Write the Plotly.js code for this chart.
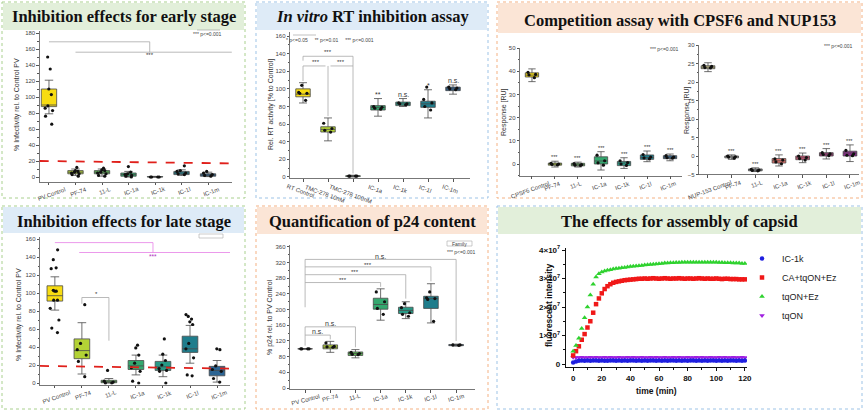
<!DOCTYPE html>
<html><head><meta charset="utf-8">
<script src="https://cdn.plot.ly/plotly-3.0.1.min.js"></script>
<style>html,body{margin:0;padding:0;background:#fff}#chart{width:865px;height:411px}</style>
</head><body><div id="chart"></div>
<script>
// ---------------- DATA ----------------
// Panel A: Inhibition effects for early stage
const earlyCats = ['PV Control','PF-74','11-L','IC-1a','IC-1k','IC-1l','IC-1m'];
const earlyQ1  = [88, 4, 4, 1, 0, 3, 1];
const earlyMed = [90, 6, 6, 3, 0.2, 5, 2.5];
const earlyQ3  = [110, 8, 8, 5, 0.5, 7, 4];
const earlyLo  = [79, 2, 1, 0, 0, 2, 0.5];
const earlyHi  = [121, 10, 10, 7, 0.8, 9, 6];
const earlyPts = [[150,135,110,103,89,86,83,76,66],[12,8,7,6,5,4,3,1],[11,9,8,6,5,4,2,1],[13,6,4,3,2,1,0],[0,0,0,0],[14,8,7,5,4,3],[7,5,3,2,1]];

// Panel B: In vitro RT inhibition assay
const rtCats = ['RT Control','TMC-278 10nM','TMC-278 100nM','IC-1a','IC-1k','IC-1l','IC-1m'];
const rtQ1  = [91, 51, 0.5, 76, 81, 79, 98];
const rtMed = [94, 54, 1, 79, 83, 83, 100];
const rtQ3  = [100, 57, 1.5, 81, 85, 86, 102];
const rtLo  = [84, 41, 0, 69, 80, 67, 94];
const rtHi  = [107, 67, 2, 89, 89, 99, 104.5];
const rtPts = [[104,96,95,95,87],[61,55,53,51],[1,1,1,1],[80,79,78,77],[84,83,83,82],[102,88,84,80,76],[102,101,100,99]];
const rtSig = ['', '', '', '**', 'n.s.', '*', 'n.s.'];

// Panel C-left: competition with CPSF6
const cpCats = ['CPSF6 Control','PF-74','11-L','IC-1a','IC-1k','IC-1l','IC-1m'];
const cpQ1  = [37.5, -0.5, -0.8, 0, -0.7, 2, 2.3];
const cpMed = [38.3, 0, -0.3, 1.3, 0.4, 2.8, 2.9];
const cpQ3  = [39.3, 0.4, 0.3, 3.1, 1.1, 3.9, 3.6];
const cpLo  = [35.5, -1.3, -1.3, -2.6, -1.9, 1, 1.4];
const cpHi  = [41, 1.2, 0.8, 5.3, 2.7, 5.6, 4.3];
const cpPts = [[39.5,38.6,38.4,37.2],[0.3,0,-0.2,-0.4],[0.2,-0.3,-0.5,-0.6],[3.8,1.4,0.5,-0.5],[1.4,0.6,0,-0.6],[4.1,3,2.6,2.2],[3.6,3,2.7,2.5]];

// Panel C-right: competition with NUP153
const nuCats = ['NUP-153 Control','PF-74','11-L','IC-1a','IC-1k','IC-1l','IC-1m'];
const nuQ1  = [23.6, -0.5, -4, -1.9, -1, 0, 0];
const nuMed = [24, -0.2, -3.8, -1.3, -0.5, 0.5, 0.8];
const nuQ3  = [24.4, 0, -3.5, -0.7, 0, 0.9, 1.3];
const nuLo  = [22.8, -0.9, -4.2, -2.7, -1.8, -0.8, -1.5];
const nuHi  = [25.2, 0.3, -3.2, 0.3, 0.8, 2, 3];
const nuPts = [[24.5,24.2,23.8,23.9],[0,-0.2,-0.3,-0.6],[-3.6,-3.8,-3.9,-4],[-0.8,-1.1,-1.6,-2.1],[0,-0.4,-0.7,-1.1],[0.9,0.6,0.4,0.1],[1.5,0.6,0.2,0.1]];

// Panel D: Inhibition effects for late stage
const lateCats = ['PV Control','PF-74','11-L','IC-1a','IC-1k','IC-1l','IC-1m'];
const lateQ1  = [91, 27, 0.3, 15, 14, 34, 8];
const lateMed = [97, 36, 1.5, 19, 18, 38, 14];
const lateQ3  = [108, 49, 3, 25, 24, 52, 18.5];
const lateLo  = [81, 10, 0, 9, 7, 22, 1];
const lateHi  = [118, 67, 5, 31, 31, 64, 25];
const latePts = [[148,137,128,127,103,102,102,92,92,83,70,61,56],[87,44,37,31,24,7],[14,2,1,0,0],[42,39,31,22,17,13,2,0],[49,32,25,20,16,14,13,0],[76,74,71,68,65,44,38,28,9,8],[38,37,19,15,13,5,1]];

// Panel E: Quantification of p24 content
const p24Cats = ['PV Control','PF-74','11-L','IC-1a','IC-1k','IC-1l','IC-1m'];
const p24Q1  = [100, 100, 83, 201, 190, 203, 108];
const p24Med = [100, 104, 88, 213, 198, 228, 109.5];
const p24Q3  = [100, 110, 92, 229, 206, 234, 111];
const p24Lo  = [100, 91, 77, 173, 177, 166, 107];
const p24Hi  = [100, 119, 98, 253, 220, 266, 112];
const p24Pts = [[100,100,100,100],[115,106,105,104],[91,88,86,85],[245,220,203,188],[215,205,192,188,183],[245,230,228,226,170],[110,110,109]];

// Panel F: capsid assembly kinetics (fluorescent intensity, x10^7)
const timeMin = [0,2,4,6,8,10,12,14,16,18,20,22,24,26,28,30,32,34,36,38,40,42,44,46,48,50,52,54,56,58,60,62,64,66,68,70,72,74,76,78,80,82,84,86,88,90,92,94,96,98,100,102,104,106,108,110,112,114,116,118,120];
const fiTqOnEz = [0.45,0.65,0.90,1.25,1.62,2.00,2.42,2.80,3.05,3.17,3.23,3.26,3.29,3.31,3.33,3.35,3.36,3.38,3.39,3.40,3.42,3.43,3.44,3.45,3.46,3.47,3.48,3.49,3.50,3.51,3.52,3.53,3.54,3.54,3.55,3.55,3.56,3.56,3.57,3.57,3.57,3.57,3.57,3.57,3.57,3.57,3.57,3.57,3.57,3.57,3.57,3.56,3.56,3.55,3.55,3.55,3.54,3.54,3.54,3.53,3.53];
const fiCaTqOnEz = [0.30,0.45,0.62,0.85,1.05,1.28,1.50,1.80,2.10,2.30,2.48,2.63,2.73,2.80,2.85,2.88,2.90,2.92,2.94,2.95,2.96,2.97,2.98,2.99,2.99,3.00,2.99,3.00,3.01,3.00,2.99,3.00,3.01,3.00,2.99,3.00,3.00,3.01,3.00,2.99,3.00,3.00,2.99,3.00,3.01,3.00,2.99,3.00,2.99,2.99,3.00,2.99,2.98,2.99,2.99,2.98,2.98,2.98,2.97,2.97,2.97];
const fiIC1k = [0.05,0.09,0.11,0.12,0.11,0.12,0.11,0.12,0.12,0.11,0.12,0.11,0.11,0.12,0.12,0.11,0.12,0.11,0.12,0.11,0.12,0.12,0.11,0.12,0.11,0.12,0.11,0.12,0.12,0.11,0.12,0.11,0.12,0.11,0.12,0.12,0.11,0.12,0.11,0.12,0.11,0.12,0.12,0.11,0.12,0.11,0.12,0.11,0.12,0.12,0.11,0.12,0.11,0.12,0.11,0.12,0.12,0.11,0.12,0.11,0.12];
const fiTqOn = [0.24,0.23,0.23,0.24,0.23,0.23,0.24,0.23,0.24,0.23,0.23,0.24,0.23,0.24,0.23,0.23,0.24,0.23,0.23,0.24,0.23,0.24,0.23,0.23,0.24,0.23,0.23,0.24,0.23,0.24,0.23,0.23,0.24,0.23,0.23,0.24,0.23,0.24,0.23,0.23,0.24,0.23,0.23,0.24,0.23,0.24,0.23,0.23,0.24,0.23,0.23,0.24,0.23,0.24,0.23,0.23,0.24,0.23,0.23,0.24,0.23];
const kinNames = ['IC-1k','CA+tqON+Ez','tqON+Ez','tqON'];
const yTickVals = [0,1,2,3,4];
const yTickText = ['0','1×10<sup>7</sup>','2×10<sup>7</sup>','3×10<sup>7</sup>','4×10<sup>7</sup>'];

// ---------------- STYLE / LAYOUT ----------------
const W = 865, H = 411;
const px = x => x / W;
const py = y => 1 - y / H;
const SANS = 'Liberation Sans, Arial, sans-serif';
const SERIF = 'Liberation Serif, Times New Roman, serif';
const palette = ['#f7dc12','#b3d235','#5dbb55','#34a86f','#279a86','#1f7d8c','#2b6493'];
const nuColors = ['#cfc78a','#c9c9c9','#9ea3aa','#e8736b','#d9577a','#a03a78','#8e2a8f'];
const suf = n => (n === 1 ? '' : String(n));

const traces = [];
const shapes = [];
const annotations = [];
const layout = {
  width: W, height: H, margin: {l:0, r:0, t:0, b:0},
  paper_bgcolor: '#ffffff', plot_bgcolor: 'rgba(0,0,0,0)',
  boxmode: 'overlay', hovermode: false,
  font: {family: SANS, color: '#333'},
  showlegend: true,
  legend: {x: px(742), y: py(244), xanchor: 'left', yanchor: 'top', font: {family: SANS, size: 9, color: '#222'},
           bgcolor: 'rgba(0,0,0,0)', itemsizing: 'trace', tracegroupgap: 0}
};

// panel frames & title bars
const frames = [
  {x0:2, y0:2, x1:245, y1:198, border:'#a9d08e', bar:'#e2efda', by1:30, title:'Inhibition effects for early stage', ty:17},
  {x0:256, y0:2, x1:488, y1:198, border:'#9dc3e6', bar:'#deebf7', by1:30, title:'<i>In vitro</i> RT inhibition assay', ty:17},
  {x0:497, y0:2, x1:862, y1:198, border:'#f4b183', bar:'#fbe5d6', by1:33, title:'Competition assay with CPSF6 and NUP153', ty:20},
  {x0:2, y0:206, x1:245, y1:409, border:'#a9d08e', bar:'#deebf7', by1:233, title:'Inhibition effects for late stage', ty:221},
  {x0:256, y0:206, x1:488, y1:409, border:'#f4b183', bar:'#fbe5d6', by1:234, title:'Quantification of p24 content', ty:221},
  {x0:497, y0:206, x1:862, y1:409, border:'#9dc3e6', bar:'#e2efda', by1:234, title:'The effects for assembly of capsid', ty:221}
];
frames.forEach(f => {
  shapes.push({type:'rect', xref:'paper', yref:'paper', layer:'below', x0:px(f.x0+1), x1:px(f.x1-1), y0:py(f.y0+1), y1:py(f.by1), fillcolor:f.bar, line:{width:0}});
  shapes.push({type:'rect', xref:'paper', yref:'paper', layer:'below', x0:px(f.x0), x1:px(f.x1), y0:py(f.y0), y1:py(f.y1), fillcolor:'rgba(0,0,0,0)', line:{color:f.border, width:1, dash:'dot'}});
  annotations.push({xref:'paper', yref:'paper', x:px((f.x0+f.x1)/2), y:py(f.ty), text:'<b>'+f.title+'</b>', showarrow:false,
    font:{family:SERIF, size:16.5, color:'#111'}, xanchor:'center', yanchor:'middle'});
});

// box panels
const boxPanels = [
  {n:1, cats:earlyCats, q1:earlyQ1, med:earlyMed, q3:earlyQ3, lo:earlyLo, hi:earlyHi, pts:earlyPts, colors:palette,
   xd:[39.7,231.9], yd:[31.4,181.8], xr:[-0.35,6.9], yr:[-6,182], dtick:20, minor:10, ang:-20, ly:183.5, ldx:3},
  {n:2, cats:rtCats, q1:rtQ1, med:rtMed, q3:rtQ3, lo:rtLo, hi:rtHi, pts:rtPts, colors:palette,
   xd:[290,470], yd:[31.6,178.3], xr:[-0.52,6.68], yr:[-1.5,165], dtick:20, minor:10, ang:20, ly:181, ldx:-3},
  {n:3, cats:cpCats, q1:cpQ1, med:cpMed, q3:cpQ3, lo:cpLo, hi:cpHi, pts:cpPts, colors:palette,
   xd:[520,682], yd:[48,175.6], xr:[-0.52,6.52], yr:[-5,50], dtick:10, minor:5, ang:-20, ly:178, ldx:-2},
  {n:4, cats:nuCats, q1:nuQ1, med:nuMed, q3:nuQ3, lo:nuLo, hi:nuHi, pts:nuPts, colors:nuColors,
   xd:[699,858.5], yd:[45,174.5], xr:[-0.38,6.36], yr:[-5,30], dtick:5, minor:2.5, ang:-20, ly:177, ldx:2},
  {n:5, cats:lateCats, q1:lateQ1, med:lateMed, q3:lateQ3, lo:lateLo, hi:lateHi, pts:latePts, colors:palette,
   xd:[40,230], yd:[237.2,384.8], xr:[-0.55,6.48], yr:[-2,162], dtick:20, minor:10, ang:-20, ly:387, ldx:2},
  {n:6, cats:p24Cats, q1:p24Q1, med:p24Med, q3:p24Q3, lo:p24Lo, hi:p24Hi, pts:p24Pts, colors:palette,
   xd:[290,475], yd:[244.9,389.2], xr:[-0.6,6.75], yr:[-3,365], dtick:40, minor:20, ang:-15, ly:390.5, ldx:0}
];

boxPanels.forEach(p => {
  const s = suf(p.n);
  layout['xaxis'+s] = {domain:[px(p.xd[0]), px(p.xd[1])], range:p.xr, type:'category', anchor:'y'+s,
    showticklabels:false, showline:true, linecolor:'#555', linewidth:0.8, ticks:'outside', ticklen:2.5, tickcolor:'#555',
    showgrid:false, zeroline:false, fixedrange:true};
  layout['yaxis'+s] = {domain:[py(p.yd[1]), py(p.yd[0])], range:p.yr, anchor:'x'+s, dtick:p.dtick,
    tickfont:{family:SANS, size:6, color:'#444'}, showline:true, linecolor:'#555', linewidth:0.8,
    ticks:'outside', ticklen:2.5, tickcolor:'#555', showgrid:false, zeroline:false, fixedrange:true,
    minor:{ticks:'outside', ticklen:1.5, dtick:p.minor, tickcolor:'#555'}};
  p.cats.forEach((c, i) => {
    traces.push({type:'box', xaxis:'x'+s, yaxis:'y'+s, x:[c], q1:[p.q1[i]], median:[p.med[i]], q3:[p.q3[i]],
      lowerfence:[p.lo[i]], upperfence:[p.hi[i]], boxpoints:false, width:0.58, whiskerwidth:0.55,
      fillcolor:p.colors[i], line:{color:'#4a4a4a', width:0.8}, showlegend:false});
    traces.push({type:'box', xaxis:'x'+s, yaxis:'y'+s, x:p.pts[i].map(() => c), y:p.pts[i], boxpoints:'all',
      jitter:0.7, pointpos:0, width:0.58, fillcolor:'rgba(0,0,0,0)', line:{color:'rgba(0,0,0,0)', width:0},
      marker:{color:'#111', size:3.2}, showlegend:false});
    annotations.push({xref:'x'+s, yref:'paper', x:i, y:py(p.ly), xshift:p.ldx, text:c, showarrow:false, textangle:p.ang,
      font:{family:SANS, size:6, color:'#444'}, xanchor:'center', yanchor:'top'});
  });
});

// axis titles of box panels
[
  {x:17, y:105, t:'% Infectivity rel. to Control PV'},
  {x:271, y:105, t:'Rel. RT activity [% to Control]'},
  {x:504, y:112, t:'Response [RU]'},
  {x:687, y:110, t:'Response [RU]'},
  {x:19, y:315, t:'% Infectivity rel. to Control PV'},
  {x:270, y:317, t:'% p24 rel. to PV Control'}
].forEach(a => annotations.push({xref:'paper', yref:'paper', x:px(a.x), y:py(a.y), text:a.t, textangle:-90, showarrow:false,
  font:{family:SANS, size:7, color:'#333'}, xanchor:'center', yanchor:'middle'}));

// significance helpers
function seg(n, x0, y0, x1, y1, color) {
  shapes.push({type:'line', xref:'x'+suf(n), yref:'y'+suf(n), x0, y0, x1, y1, line:{color:color||'#a8a8a8', width:0.8}});
}
function lab(n, x, y, t, color, size) {
  annotations.push({xref:'x'+suf(n), yref:'y'+suf(n), x, y, text:t, showarrow:false,
    font:{family:SANS, size:size||6, color:color||'#333'}, xanchor:'center', yanchor:'middle'});
}
function note(x, y, t) {
  annotations.push({xref:'paper', yref:'paper', x:px(x), y:py(y), text:t, showarrow:false,
    font:{family:SANS, size:5, color:'#444'}, xanchor:'center', yanchor:'middle'});
}
function refLine(n, yL, yR) {
  shapes.push({type:'line', xref:'x'+suf(n)+' domain', yref:'y'+suf(n), x0:0, x1:1, y0:yL, y1:yR,
    line:{color:'#e0201b', width:1.8, dash:'dash'}});
}

// panel 1 annotations
refLine(1, 20, 17);
seg(1, 0, 169, 3.8, 169); seg(1, 3.8, 169, 3.8, 156); seg(1, 1, 156, 6.9, 156);
lab(1, 3.8, 152, '***', '#333', 6);
note(207, 34, '*** p<=0.001');
shapes.push({type:'line', xref:'paper', yref:'paper', x0:px(197), x1:px(220), y0:py(30), y1:py(30), line:{color:'#999', width:0.6}});

// panel 2 annotations
seg(2, 0, 109, 0, 126); seg(2, 0, 126, 0.9, 126); seg(2, 1.1, 126, 2, 126);
seg(2, 1, 126, 1, 69); seg(2, 2, 137, 2, 4);
seg(2, 0, 137, 2, 137); seg(2, 0, 137, 0, 132);
lab(2, 0.5, 131, '***'); lab(2, 1.5, 131, '***'); lab(2, 1, 142, '***');
rtSig.forEach((t, i) => { if (t) lab(2, i, rtHi[i] + 5, t, '#333', 7); });
note(330, 40, '* p<=0.05 &nbsp;&nbsp;&nbsp; ** p<=0.01 &nbsp;&nbsp;&nbsp; *** p<=0.001');
shapes.push({type:'line', xref:'paper', yref:'paper', x0:px(293), x1:px(316), y0:py(35), y1:py(35), line:{color:'#999', width:0.6}});

// panel 3 annotations
cpCats.forEach((c, i) => { if (i > 0) lab(3, i, cpHi[i] + 1.8, '***', '#333', 5.5); });
nuCats.forEach((c, i) => { if (i > 0) lab(4, i, nuHi[i] + 1.1, '***', '#333', 5.5); });
note(664, 49, '*** p<=0.001'); note(838, 46, '*** p<=0.001');

// panel 4 (late)
refLine(5, 19, 16);
seg(5, 0, 156, 3.63, 156, '#e67fe6'); seg(5, 3.63, 156, 3.63, 145, '#e67fe6'); seg(5, 0.9, 145, 6.48, 145, '#e67fe6');
lab(5, 3.63, 141, '***', '#b030c0', 6.5);
seg(5, 1, 88, 1, 95); seg(5, 1, 95, 2, 95); seg(5, 2, 95, 2, 47);
lab(5, 1.55, 98.5, '*', '#333', 6);
shapes.push({type:'rect', xref:'paper', yref:'paper', x0:px(199), x1:px(223), y0:py(238), y1:py(234), line:{color:'#aaa', width:0.6}});

// panel 5 (p24)
seg(6, 0, 206, 0, 328); seg(6, 0, 269, 3, 269); seg(6, 3, 269, 3, 258);
seg(6, 0, 289, 4, 289); seg(6, 4, 289, 4, 228);
seg(6, 0, 309, 5, 309); seg(6, 5, 309, 5, 272);
seg(6, 0, 328, 6, 328); seg(6, 6, 328, 6, 120);
lab(6, 1.5, 275, '***'); lab(6, 2, 295, '***'); lab(6, 2.5, 315, '***'); lab(6, 3, 335, 'n.s.', '#333', 7);
seg(6, 0, 108, 0, 156); seg(6, 0, 135, 1, 135); seg(6, 1, 135, 1, 124);
seg(6, 0, 156, 2, 156); seg(6, 2, 156, 2, 104);
lab(6, 0.5, 143, 'n.s.', '#333', 7); lab(6, 1, 164, 'n.s.', '#333', 7);
shapes.push({type:'rect', xref:'paper', yref:'paper', x0:px(447), x1:px(472), y0:py(246), y1:py(241), line:{color:'#aaa', width:0.6}});
note(459, 243.5, 'Family'); note(461, 252, '*** p<=0.001');

// panel 6: kinetics
layout.xaxis7 = {domain:[px(566), px(747)], range:[-5, 121.5], anchor:'y7', dtick:20, tick0:0,
  tickfont:{family:SANS, size:8, color:'#111', weight:'bold'}, showline:true, linecolor:'#111', linewidth:1.2,
  ticks:'outside', ticklen:3, tickcolor:'#111', showgrid:false, zeroline:false, fixedrange:true,
  minor:{ticks:'outside', ticklen:1.8, dtick:10, tickcolor:'#111'}};
layout.yaxis7 = {domain:[py(367), py(248)], range:[-0.105, 4.07], anchor:'x7', tickvals:yTickVals, ticktext:yTickText,
  tickfont:{family:SANS, size:8, color:'#111', weight:'bold'}, showline:true, linecolor:'#111', linewidth:1.2,
  ticks:'outside', ticklen:3, tickcolor:'#111', showgrid:false, zeroline:false, fixedrange:true,
  minor:{ticks:'outside', ticklen:1.8, dtick:0.5, tickcolor:'#111'}};
const kin = [
  {y:fiIC1k, c:'#1f1fe0', sym:'circle', rank:1, sz:4.5},
  {y:fiCaTqOnEz, c:'#f01818', sym:'square', rank:2, sz:4.5},
  {y:fiTqOnEz, c:'#2fd22f', sym:'triangle-up', rank:3, sz:5},
  {y:fiTqOn, c:'#a020e0', sym:'triangle-down', rank:4, sz:5}
];
[3, 0, 1, 2].forEach(k => {
  const d = kin[k];
  traces.push({type:'scatter', mode:'markers', xaxis:'x7', yaxis:'y7', x:timeMin, y:d.y, name:kinNames[k],
    legendrank:d.rank, marker:{color:d.c, symbol:d.sym, size:d.sz}, showlegend:true});
});
annotations.push({xref:'paper', yref:'paper', x:px(549), y:py(306), text:'<b>fluorescent intensity</b>', textangle:-90, showarrow:false,
  font:{family:SANS, size:8.5, color:'#111'}, xanchor:'center', yanchor:'middle'});
annotations.push({xref:'paper', yref:'paper', x:px(656), y:py(391), text:'<b>time (min)</b>', showarrow:false,
  font:{family:SANS, size:8.5, color:'#111'}, xanchor:'center', yanchor:'middle'});

layout.shapes = shapes;
layout.annotations = annotations;
Plotly.newPlot('chart', traces, layout, {staticPlot:true, displayModeBar:false});
</script></body></html>
